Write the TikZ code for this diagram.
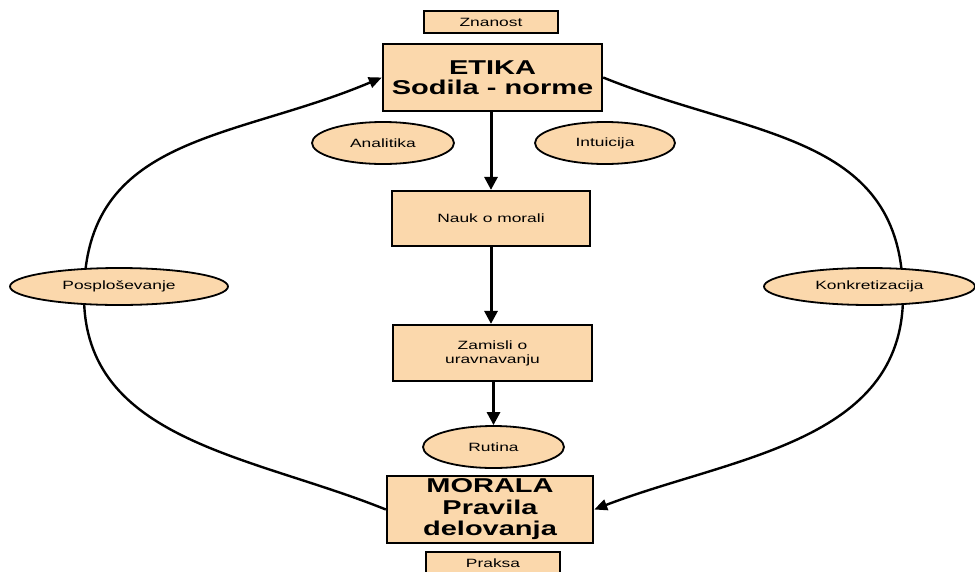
\documentclass[tikz,border=0pt]{standalone}
\usepackage{fontspec}
\setmainfont{Liberation Sans}[FakeStretch=1.45]
\usetikzlibrary{arrows.meta,shapes.geometric}
\definecolor{peach}{RGB}{251,216,172}
\tikzset{
  box/.style={draw=black,fill=peach,line width=2.2pt,minimum width=#1,inner sep=0pt,align=center,font=\fontsize{12}{14}\selectfont},
  bigbox/.style={draw=black,fill=peach,line width=2.4pt,inner sep=0pt,align=center,font=\bfseries\fontsize{20}{20.5}\selectfont},
  oval/.style={draw=black,fill=peach,ellipse,line width=1.8pt,inner sep=0pt,font=\fontsize{12}{14}\selectfont},
  flow/.style={line width=3pt,-{Triangle[length=13pt,width=13pt]}},
  loopline/.style={line width=2.4pt,-{Triangle[length=13pt,width=11pt]}}
}
\begin{document}
\begin{tikzpicture}[x=1pt,y=1pt]
\useasboundingbox (0,0) rectangle (975,-571);
\node[box=134pt,minimum height=22pt] (znanost) at (491,-22) {Znanost};
\node[bigbox,minimum width=219pt,minimum height=67pt] (etika) at (492.5,-77.5) {ETIKA\\Sodila - norme};
\node[oval,minimum width=142pt,minimum height=42pt] (analitika) at (383,-143) {Analitika};
\node[oval,minimum width=140pt,minimum height=42pt] (intuicija) at (605,-143) {Intuicija};
\node[box=198pt,minimum height=55pt] (nauk) at (491,-218.5) {Nauk o morali};
\node[box=199pt,minimum height=56pt] (zamisli) at (492.5,-353) {Zamisli o\\uravnavanju};
\node[oval,minimum width=141pt,minimum height=42pt] (rutina) at (493.5,-447) {Rutina};
\node[bigbox,minimum width=206pt,minimum height=67pt,font=\bfseries\fontsize{20}{21.5}\selectfont] (morala) at (490,-509.5) {MORALA\\Pravila\\delovanja};
\node[box=134pt,minimum height=22pt] (praksa) at (493,-563) {Praksa};
\draw[flow] (etika.south -| nauk.north) -- (nauk.north);
\draw[flow] (nauk.south) -- (nauk.south |- zamisli.north);
\draw[flow] (zamisli.south -| rutina.north) -- (rutina.north);
\coordinate (L) at (84,-296);
\coordinate (R) at (903,-296);
\draw[loopline] (morala.west) to[out=158,in=-90] (L) to[out=90,in=203,looseness=1.12] (etika.west);
\draw[loopline] (etika.east) to[out=-22,in=90,looseness=1.12] (R) to[out=-90,in=21] (morala.east);
\node[oval,minimum width=218pt,minimum height=37pt] (posp) at (119,-286.5) {Posploševanje};
\node[oval,minimum width=211pt,minimum height=37pt] (konk) at (869.5,-286.5) {Konkretizacija};
\end{tikzpicture}
\end{document}
